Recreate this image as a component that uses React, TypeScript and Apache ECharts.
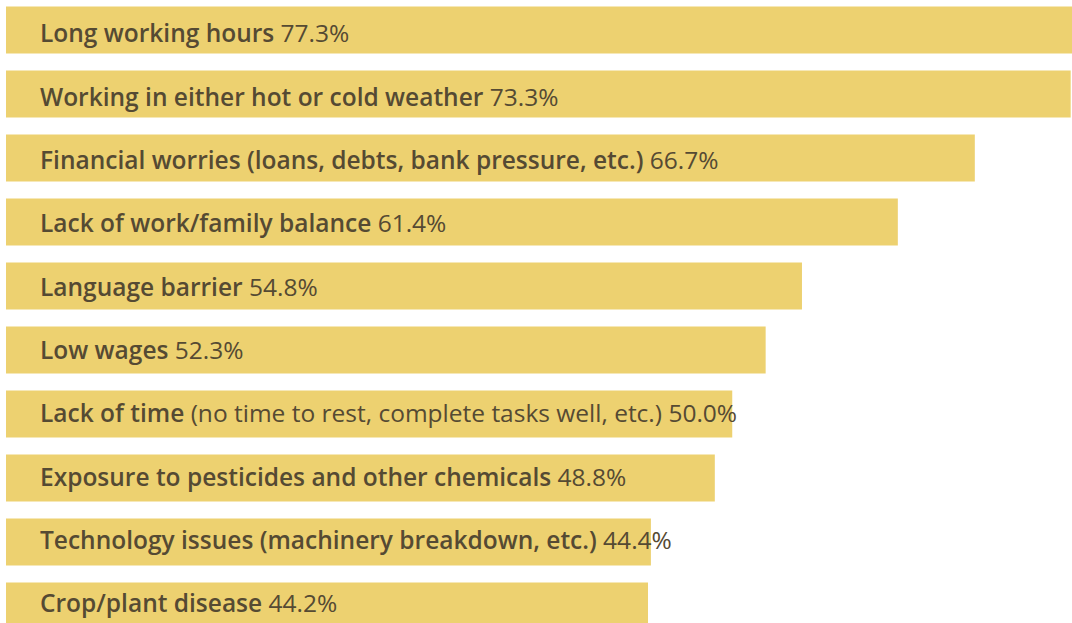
import React, { useEffect, useRef } from "react";
import * as echarts from "echarts";

const labelBold = [
  "Long working hours",
  "Working in either hot or cold weather",
  "Financial worries (loans, debts, bank pressure, etc.)",
  "Lack of work/family balance",
  "Language barrier",
  "Low wages",
  "Lack of time",
  "Exposure to pesticides and other chemicals",
  "Technology issues (machinery breakdown, etc.)",
  "Crop/plant disease",
];
const labelNote = ["", "", "", "", "", "", "(no time to rest, complete tasks well, etc.)", "", "", ""];
const values = [77.3, 73.3, 66.7, 61.4, 54.8, 52.3, 50.0, 48.8, 44.4, 44.2];

const BAR = "#EDD170";
const TEXT = "#554a33";
const FONT = "'Open Sans', 'Noto Sans', sans-serif";

export default function App() {
  const ref = useRef<HTMLDivElement>(null);
  useEffect(() => {
    document.body.style.margin = "0";
    const chart = echarts.init(ref.current!, null, { renderer: "svg" });
    chart.setOption({
      animation: false,
      grid: { left: 6, right: 0, top: 0, bottom: 0 },
      xAxis: { type: "value", min: 0, max: 80, show: false },
      yAxis: {
        type: "category",
        inverse: true,
        data: labelBold,
        show: false,
      },
      series: [
        {
          type: "bar",
          // label rows sit on a slightly tighter pitch than the bars in the reference
          data: values.map((v, i) => ({ value: v, label: { offset: [0, 2.7 - 0.67 * i] } })),
          barWidth: 47,
          clip: true,
          itemStyle: { color: BAR },
          label: {
            show: true,
            position: "insideLeft",
            distance: 34,
            formatter: (p: any) => {
              const i = p.dataIndex;
              const note = labelNote[i] ? `{n| ${labelNote[i]}}` : "";
              return `{b|${labelBold[i]}}${note}{n| ${values[i].toFixed(1)}%}`;
            },
            rich: {
              b: { fontFamily: FONT, fontSize: 24.5, fontWeight: 600, color: TEXT },
              n: { fontFamily: FONT, fontSize: 24.5, fontWeight: "normal", color: TEXT },
            },
          },
        },
      ],
    });
    return () => chart.dispose();
  }, []);
  return (
    <div style={{ width: 1072, height: 623, overflow: "hidden", position: "relative", background: "#fff" }}>
      <div ref={ref} style={{ position: "absolute", left: 0, top: -2.5, width: 1168, height: 640 }} />
    </div>
  );
}
